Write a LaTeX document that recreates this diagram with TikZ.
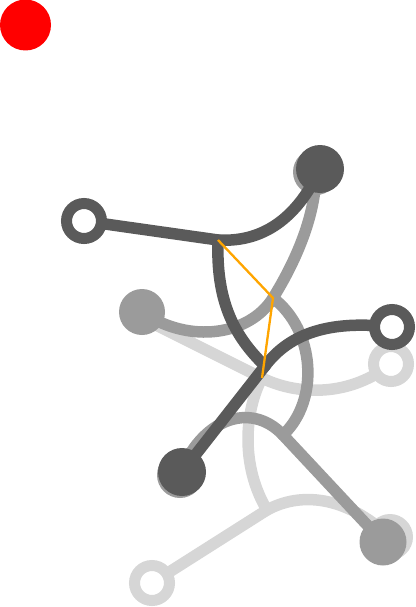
\documentclass[tikz,border=0pt]{standalone}
\definecolor{boneD}{HTML}{5A5A5A}
\definecolor{boneM}{HTML}{9B9B9B}
\definecolor{boneL}{HTML}{D6D6D6}
\definecolor{trail}{HTML}{FFA500}
\begin{document}
\begin{tikzpicture}[x=1pt, y=-1pt, line cap=round,
    bone/.style={line width=11.5pt},
    dot/.style={circle, inner sep=0pt, minimum size=47pt, draw=none},
    ring/.style={circle, inner sep=0pt, minimum size=35pt, line width=11pt, fill=white}]
  \useasboundingbox (0,0) rectangle (415,607);

  % 1. red marker
  \node[dot, fill=red, minimum size=51pt] (marker) at (25.5,25) {};

  % 2. light pose (bottom layer)
  \coordinate (lJ1) at (262,378); \coordinate (lJ2) at (267,510);
  \coordinate (lA) at (150,322);  \coordinate (lB) at (391,364);
  \coordinate (lC) at (152,583);  \coordinate (lD) at (390,537);
  \draw[bone, boneL] (lA) -- (lJ1) .. controls (292,393) and (345,400) .. (lB);
  \draw[bone, boneL] (lJ1) .. controls (245,410) and (240,465) .. (lJ2);
  \draw[bone, boneL] (lC) -- (lJ2) .. controls (300,492) and (345,495) .. (lD);
  \node[ring, draw=boneL] (lBring) at (lB) {};
  \node[ring, draw=boneL] (lCring) at (lC) {};
  \node[dot, fill=boneL, minimum size=46pt] (lDdot) at (lD) {};

  % 3. middle pose
  \coordinate (mJ1) at (273,298); \coordinate (mJ2) at (283,435);
  \coordinate (mA) at (142,312);  \coordinate (mB) at (316,172);
  \coordinate (mC) at (180,475);  \coordinate (mD) at (383,542);
  \draw[bone, boneM] (mA) .. controls (190,345) and (250,335) .. (mJ1)
                          .. controls (296,261) and (316,215) .. (mB);
  \draw[bone, boneM] (mJ1) .. controls (315,330) and (320,400) .. (mJ2);
  \draw[bone, boneM] (mC) .. controls (200,420) and (250,400) .. (mJ2) -- (mD);
  \node[dot, fill=boneM, minimum size=46pt] (mAdot) at (mA) {};
  \node[dot, fill=boneM, minimum size=46pt] (mBdot) at (mB) {};
  \node[dot, fill=boneM, minimum size=46pt] (mCdot) at (mC) {};
  \node[dot, fill=boneM, minimum size=47pt] (mDdot) at (mD) {};

  % 4. dark pose (top layer)
  \coordinate (dJ1) at (218,240); \coordinate (dJ2) at (265,366);
  \coordinate (dA) at (84,221);   \coordinate (dB) at (320,169);
  \coordinate (dC) at (182,472);  \coordinate (dD) at (392,327);
  \draw[bone, boneD] (dA) -- (dJ1) .. controls (268,243) and (300,212) .. (dB);
  \draw[bone, boneD] (dJ1) .. controls (216,300) and (233,335) .. (dJ2);
  \draw[bone, boneD] (dC) -- (dJ2) .. controls (290,333) and (330,320) .. (dD);
  \node[ring, draw=boneD] (dAring) at (dA) {};
  \node[dot, fill=boneD, minimum size=48pt] (dBdot) at (dB) {};
  \node[dot, fill=boneD, minimum size=48pt] (dCdot) at (dC) {};
  \node[ring, draw=boneD] (dDring) at (dD) {};

  % 5. trail through the first joints
  \draw[trail, line width=2.3pt, line cap=butt] (dJ1) -- (mJ1) -- (lJ1);
\end{tikzpicture}
\end{document}
